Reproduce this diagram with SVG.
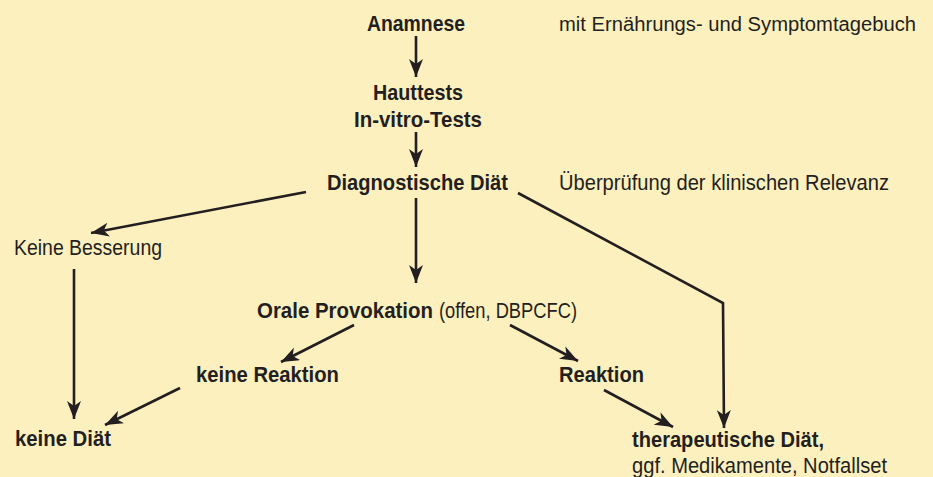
<svg xmlns="http://www.w3.org/2000/svg" width="933" height="477" viewBox="0 0 933 477">
<defs>
<style>
text{font-family:"Liberation Sans",Arial,sans-serif;font-size:21.5px;fill:#231f20}
.b{font-weight:bold}
.s{font-size:20px}
.c{stroke:#231f20;stroke-width:2.6;fill:none;marker-end:url(#ah)}
</style>
<marker id="ah" markerUnits="userSpaceOnUse" markerWidth="20" markerHeight="14" refX="18" refY="7" orient="auto" viewBox="0 0 20 14">
<path d="M0,0 L18,7 L0,14 L5,7 z" fill="#231f20"/>
</marker>
</defs>
<rect width="933" height="477" fill="#fdf0bf"/>
<g id="connectors">
<line class="c" x1="416" y1="36" x2="416" y2="77"/>
<line class="c" x1="416" y1="132" x2="416" y2="167"/>
<line class="c" x1="306" y1="192" x2="91" y2="233"/>
<line class="c" x1="74" y1="269" x2="74" y2="419"/>
<line class="c" x1="416" y1="198" x2="416" y2="283"/>
<line class="c" x1="354" y1="325" x2="281" y2="362"/>
<line class="c" x1="180" y1="388" x2="105" y2="425"/>
<line class="c" x1="510" y1="325" x2="578" y2="361"/>
<line class="c" x1="604" y1="390" x2="673" y2="427"/>
<polyline class="c" points="518,193 723,303 724,428"/>
</g>
<g id="anamnese"><text class="b" x="367" y="31" textLength="98" lengthAdjust="spacingAndGlyphs">Anamnese</text></g>
<g id="anamnese-note"><text class="s" x="559" y="31" textLength="357" lengthAdjust="spacingAndGlyphs">mit Ernährungs- und Symptomtagebuch</text></g>
<g id="tests">
<text class="b" x="373" y="100" textLength="90" lengthAdjust="spacingAndGlyphs">Hauttests</text>
<text class="b" x="354" y="127" textLength="128" lengthAdjust="spacingAndGlyphs">In-vitro-Tests</text>
</g>
<g id="diagnostische"><text class="b" x="327" y="190" textLength="181" lengthAdjust="spacingAndGlyphs">Diagnostische Diät</text></g>
<g id="diagnostische-note"><text x="559" y="190" textLength="330" lengthAdjust="spacingAndGlyphs">Überprüfung der klinischen Relevanz</text></g>
<g id="keine-besserung"><text x="14" y="255" textLength="148" lengthAdjust="spacingAndGlyphs">Keine Besserung</text></g>
<g id="orale">
<text class="b" x="257" y="318" textLength="176" lengthAdjust="spacingAndGlyphs">Orale Provokation</text>
<text x="439" y="318" textLength="138" lengthAdjust="spacingAndGlyphs">(offen, DBPCFC)</text>
</g>
<g id="keine-reaktion"><text class="b" x="196" y="382" textLength="143" lengthAdjust="spacingAndGlyphs">keine Reaktion</text></g>
<g id="reaktion"><text class="b" x="559" y="382" textLength="85" lengthAdjust="spacingAndGlyphs">Reaktion</text></g>
<g id="keine-diaet"><text class="b" x="15" y="446" textLength="96" lengthAdjust="spacingAndGlyphs">keine Diät</text></g>
<g id="therapeutisch">
<text class="b" x="632" y="447" textLength="192" lengthAdjust="spacingAndGlyphs">therapeutische Diät,</text>
<text x="632" y="473" textLength="255" lengthAdjust="spacingAndGlyphs">ggf. Medikamente, Notfallset</text>
</g>
</svg>
